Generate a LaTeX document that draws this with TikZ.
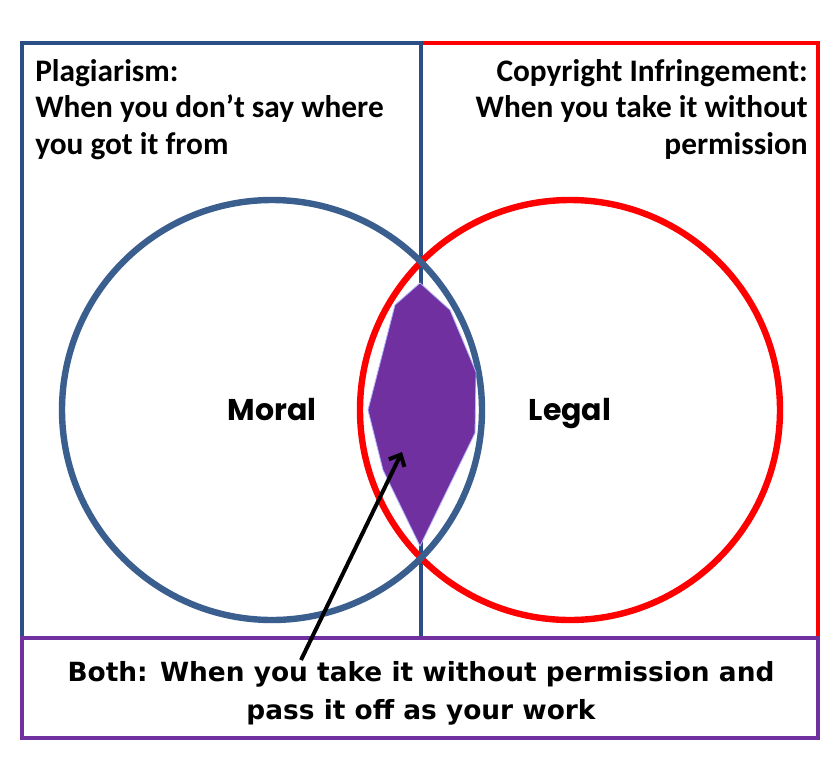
\documentclass[tikz,border=0pt]{standalone}
\usepackage{fontspec}
\setmainfont{Carlito}
\newfontfamily\roundfont{Poppins}
\newfontfamily\bothfont{DejaVu Sans}
\usetikzlibrary{arrows.meta}

\definecolor{moralblue}{HTML}{3A5F8F}
\definecolor{frameblue}{HTML}{2B4F85}
\definecolor{legalred}{HTML}{FF0000}
\definecolor{bothpurple}{HTML}{7030A0}

\tikzstyle{boxline}=[line width=2.6pt]
\tikzstyle{ring}=[line width=4.8pt]
\tikzstyle{corner}=[font=\bfseries\fontsize{23.5}{27.4}\selectfont, align=left, inner sep=0pt]
\tikzstyle{label}=[font=\roundfont\bfseries\fontsize{22.5}{26}\selectfont, inner sep=0pt, anchor=base]
\tikzstyle{both}=[font=\bothfont\bfseries\fontsize{19.8}{28.5}\selectfont, align=center, inner sep=0pt]
\tikzstyle{arrow}=[line width=3pt, ->, >={Straight Barb[length=7pt, width=13pt]}]

\begin{document}
\begin{tikzpicture}[x=0.75pt, y=-0.75pt]

\useasboundingbox[fill=white](0,0) rectangle (840,776);

\draw[boxline, draw=legalred](421,43) rectangle (818,638);
\draw[boxline, draw=frameblue](22,43) rectangle (421,638);

\draw[ring, draw=legalred](570,410) circle (210);
\draw[ring, draw=moralblue](272,410) circle (210);

\fill[bothpurple, draw=blue!30!white, line width=0.6pt](420,283) -- (450,310) -- (476,372) -- (475,433) -- (420,546) -- (383,470) -- (368,410) -- (395,305) -- cycle;

\node(plag)[corner, anchor=north west] at (35,59){Plagiarism:\\When you don’t say where\\you got it from};
\node(copy)[corner, anchor=north east, align=right] at (808,59){Copyright Infringement:\\When you take it without\\permission};

\node(moral)[label] at (272,420){Moral};
\node(legal)[label] at (570,420){Legal};

\draw[boxline, draw=bothpurple, line width=3pt](22,638) rectangle (818,738);
\node(bothtext)[both] at (421,693){Both: When you take it without permission and\\pass it off as your work};

\coordinate(tail) at (301,660);
\coordinate(tip) at (402,452);
\draw[arrow](tail)--(tip);

\end{tikzpicture}
\end{document}
